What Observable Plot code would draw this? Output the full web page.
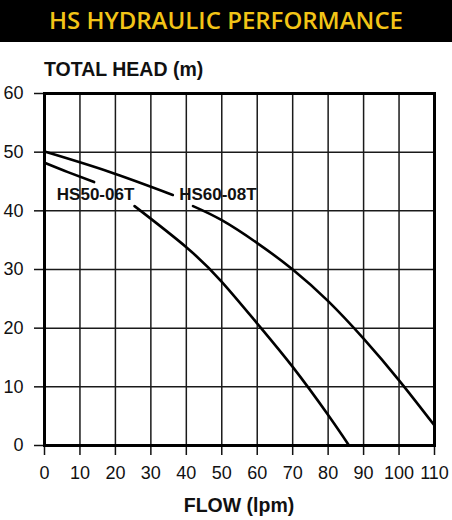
<!DOCTYPE html>
<html>
<head>
<meta charset="utf-8">
<script src="https://cdn.jsdelivr.net/npm/d3@7"></script>
<script src="https://cdn.jsdelivr.net/npm/@observablehq/plot@0.6"></script>
<style>
  html, body { margin: 0; padding: 0; background: #fff; }
  body { width: 452px; height: 520px; overflow: hidden; }
  #title { height: 42px; background: #000; color: #f2c417; font-family: "Open Sans", sans-serif;
           font-weight: 600; font-size: 24px; line-height: 40px; text-align: center; }
  #ylabel { height: 15px; padding-top: 18px; padding-left: 44px; font-family: "Liberation Sans", Arial, sans-serif;
            font-weight: bold; font-size: 19.5px; line-height: 1; color: #111; overflow: visible; white-space: nowrap; }
  #xlabel { padding-top: 11px; text-align: center; padding-left: 26px; font-family: "Liberation Sans", Arial, sans-serif;
            font-weight: bold; font-size: 19.5px; line-height: 1; color: #111; }
  #chart svg { display: block; }
</style>
</head>
<body>
<div id="title">HS HYDRAULIC PERFORMANCE</div>
<div id="ylabel">TOTAL HEAD (m)</div>
<div id="chart"></div>
<div id="xlabel">FLOW (lpm)</div>
<script>
// Tick values
const xTicks = [0, 10, 20, 30, 40, 50, 60, 70, 80, 90, 100, 110];
const yTicks = [0, 10, 20, 30, 40, 50, 60];

// HS50-06T curve (segment 2 resumes after the label gap)
const hs50Flow = [0, 6.6, 14, 25.4, 40, 50, 60, 70, 80, 85.9];
const hs50Head = [48.2, 46.6, 44.9, 40.8, 33.8, 27.9, 20.8, 13.4, 5.2, 0];
const hs50Seg  = [1, 1, 1, 2, 2, 2, 2, 2, 2, 2];

// HS60-08T curve
const hs60Flow = [0, 18, 36.2, 41.9, 50, 60, 70, 80, 90, 100, 110];
const hs60Head = [50.1, 46.7, 42.7, 40.8, 38.4, 34.5, 30.0, 24.6, 18.2, 11.1, 3.4];
const hs60Seg  = [1, 1, 1, 2, 2, 2, 2, 2, 2, 2, 2];

// Curve labels
const labelNames = ["HS50-06T", "HS60-08T"];
const labelFlow = [14.4, 48.9];
const labelHead = [42.7, 42.7];

const curveData = [
  ...hs50Flow.map((f, i) => ({flow: f, head: hs50Head[i], key: "HS50-" + hs50Seg[i]})),
  ...hs60Flow.map((f, i) => ({flow: f, head: hs60Head[i], key: "HS60-" + hs60Seg[i]}))
];
const labels = labelNames.map((n, i) => ({name: n, flow: labelFlow[i], head: labelHead[i]}));

const chart = Plot.plot({
  width: 452,
  height: 410,
  marginLeft: 44,
  marginRight: 18,
  marginTop: 18,
  marginBottom: 40,
  x: {domain: [0, 110]},
  y: {domain: [0, 60]},
  style: {fontFamily: "'Liberation Sans', Arial, sans-serif", fontSize: "18px", color: "#111", background: "#fff", overflow: "visible"},
  marks: [
    Plot.gridX(xTicks, {stroke: "#1a1a1a", strokeOpacity: 1, strokeWidth: 1.5}),
    Plot.gridY(yTicks, {stroke: "#1a1a1a", strokeOpacity: 1, strokeWidth: 1.5}),
    Plot.axisX(xTicks, {tickSize: 10, tickPadding: 11, label: null, fontSize: 18, strokeWidth: 1.5}),
    Plot.axisY(yTicks, {tickSize: 10, tickPadding: 11, label: null, fontSize: 18, strokeWidth: 1.5}),
    Plot.line(curveData, {x: "flow", y: "head", z: "key", stroke: "#000", strokeWidth: 2.6, curve: "natural"}),
    Plot.text(labels, {x: "flow", y: "head", text: "name", fontWeight: "bold", fontSize: 17, fill: "#111", lineAnchor: "middle"}),
    Plot.frame({stroke: "#000", strokeWidth: 3})
  ]
});
document.getElementById("chart").appendChild(chart);
</script>
</body>
</html>
